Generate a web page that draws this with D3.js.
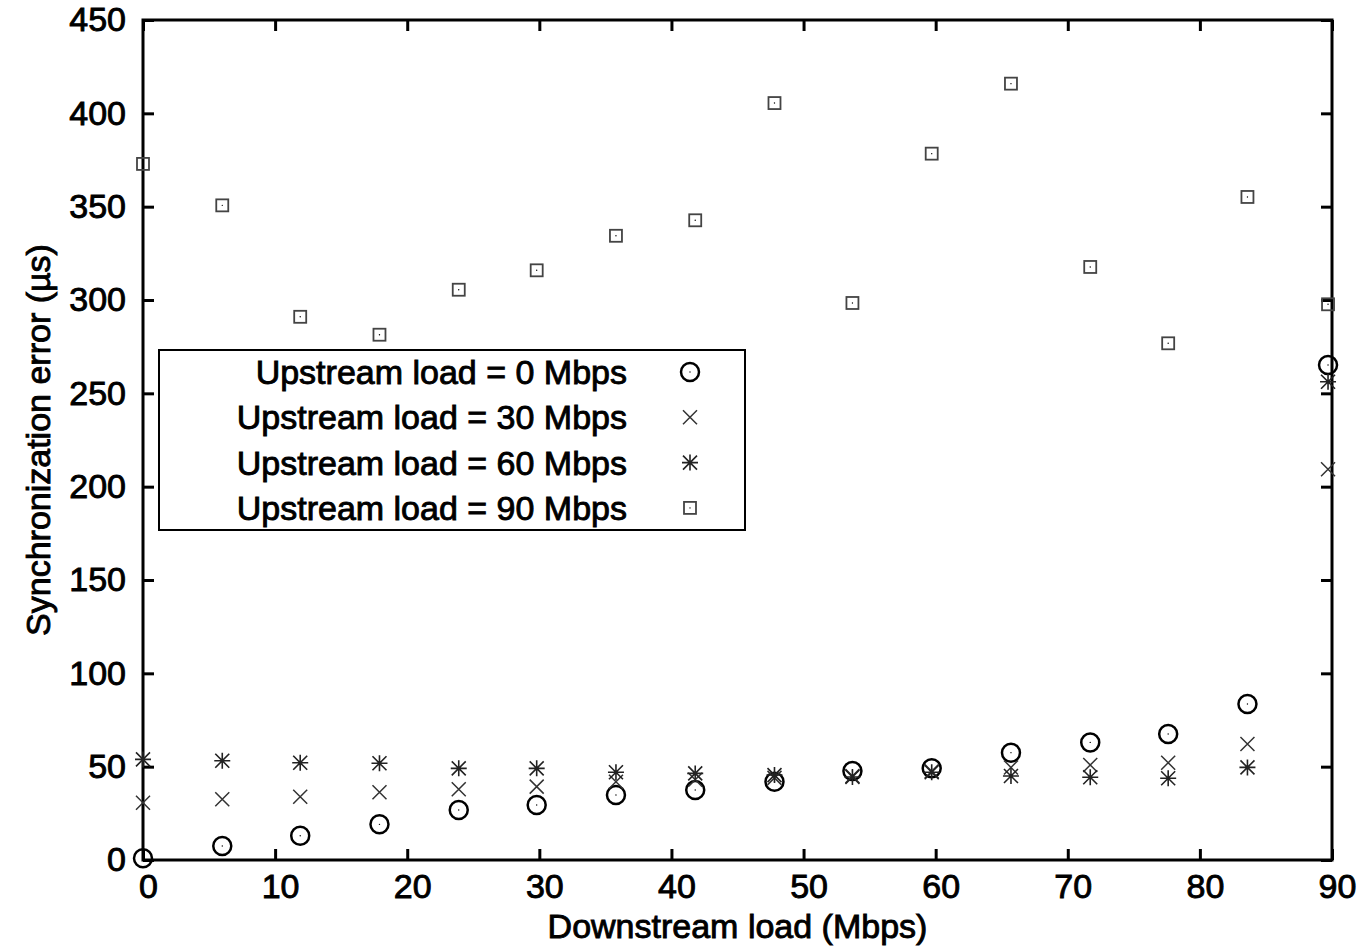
<!DOCTYPE html>
<html>
<head>
<meta charset="utf-8">
<script src="https://cdn.jsdelivr.net/npm/d3@7"></script>
<style>
  body { margin: 0; background: #fff; }
  text { font-family: "Liberation Sans", Arial, sans-serif; fill: #000; stroke: #000; stroke-width: 0.9px; }
</style>
</head>
<body>
<div class="chart"></div>
<script>
// downstream load (Mbps) for each measurement
var loads = [0, 6.0, 11.9, 17.9, 23.9, 29.8, 35.8, 41.8, 47.8, 53.7, 59.7, 65.7, 71.7, 77.6, 83.6, 89.7];

// synchronization error (us) per upstream load
var up0  = [0.9, 7.5, 13, 19.1, 26.8, 29.5, 34.8, 37.5, 41.9, 47.7, 49.1, 57.5, 63, 67.5, 83.6, 265.2];
var up30 = [30.7, 32.5, 33.9, 36.3, 37.9, 39.3, 41.9, 43, 44, 45, 47.5, 49.6, 50.9, 52.1, 62.1, 209.3];
var up60 = [53.9, 53.2, 52.1, 51.8, 49.1, 49.1, 47, 46.4, 45.5, 44.5, 47, 45, 44.3, 43.8, 49.6, 256.2];
var up90 = [372.9, 350.7, 291, 281.4, 305.5, 315.9, 334.4, 342.7, 405.5, 298.4, 378.4, 415.9, 317.7, 276.8, 355.2, 297.7];

var seriesNames = ['Upstream load = 0 Mbps', 'Upstream load = 30 Mbps', 'Upstream load = 60 Mbps', 'Upstream load = 90 Mbps'];
var seriesMarks = ['circle', 'cross', 'star', 'square'];
var xTicks = [0, 10, 20, 30, 40, 50, 60, 70, 80, 90];
var yTicks = [0, 50, 100, 150, 200, 250, 300, 350, 400, 450];

var width = 1361, height = 947;
var plotLeft = 143, plotRight = 1332, plotTop = 20, plotBottom = 860;

var svg = d3.select('.chart')
            .append('svg')
            .attr('width', width)
            .attr('height', height);

var x = d3.scaleLinear().domain([0, 90]).range([plotLeft, plotRight]);
var y = d3.scaleLinear().domain([0, 450]).range([plotBottom, plotTop]);

// ticks (inward on all four sides)
var xAxis = svg.append('g')
               .attr('transform', 'translate(0,' + plotBottom + ')')
               .call(d3.axisBottom(x).tickValues(xTicks).tickSizeInner(-11).tickSizeOuter(0).tickPadding(14));
xAxis.selectAll('text').attr('dx', 5);

var yAxis = svg.append('g')
               .attr('transform', 'translate(' + plotLeft + ',0)')
               .call(d3.axisLeft(y).tickValues(yTicks).tickSizeInner(-11).tickSizeOuter(0).tickPadding(17));

var topAxis = svg.append('g')
                 .attr('transform', 'translate(0,' + plotTop + ')')
                 .call(d3.axisTop(x).tickValues(xTicks).tickSizeInner(-11).tickSizeOuter(0).tickFormat(''));

var rightAxis = svg.append('g')
                   .attr('transform', 'translate(' + plotRight + ',0)')
                   .call(d3.axisRight(y).tickValues(yTicks).tickSizeInner(-11).tickSizeOuter(0).tickFormat(''));

svg.selectAll('.domain').remove();
svg.selectAll('.tick line').attr('stroke', '#000').attr('stroke-width', 3);
svg.selectAll('.tick text')
   .attr('font-size', 34)
   .attr('font-family', '"Liberation Sans", Arial, sans-serif')
   .attr('fill', '#000');

svg.append('rect')
   .attr('x', plotLeft)
   .attr('y', plotTop)
   .attr('width', plotRight - plotLeft)
   .attr('height', plotBottom - plotTop)
   .attr('fill', 'none')
   .attr('stroke', '#000')
   .attr('stroke-width', 3);

// axis titles
svg.append('text')
   .text('Downstream load (Mbps)')
   .attr('x', (plotLeft + plotRight) / 2)
   .attr('y', 938)
   .attr('text-anchor', 'middle')
   .attr('font-size', 34);

svg.append('text')
   .text('Synchronization error (µs)')
   .attr('transform', 'translate(50,' + (plotTop + plotBottom) / 2 + ') rotate(-90)')
   .attr('text-anchor', 'middle')
   .attr('font-size', 34);

// marker drawing
function drawMark(g, kind) {
  if (kind === 'circle') {
    g.append('circle').attr('r', 9).attr('fill', 'none').attr('stroke', '#000').attr('stroke-width', 2.5);
    g.append('circle').attr('r', 0.7).attr('fill', '#000');
  } else if (kind === 'cross') {
    g.append('path').attr('d', 'M-7,-7L7,7M-7,7L7,-7').attr('stroke', '#333').attr('stroke-width', 1.5);
  } else if (kind === 'star') {
    g.append('path').attr('d', 'M-7,-7L7,7M-7,7L7,-7M-8,0L8,0M0,-8L0,8').attr('stroke', '#222').attr('stroke-width', 1.6);
  } else {
    g.append('rect').attr('x', -6).attr('y', -6).attr('width', 12).attr('height', 12)
     .attr('fill', 'none').attr('stroke', '#444').attr('stroke-width', 1.8);
    g.append('circle').attr('r', 0.7).attr('fill', '#000');
  }
}

var allSeries = [up0, up30, up60, up90];
allSeries.forEach(function(values, s) {
  svg.append('g')
     .selectAll('g')
     .data(values)
     .enter()
     .append('g')
     .attr('transform', function(d, i) { return 'translate(' + x(loads[i]) + ',' + y(d) + ')'; })
     .each(function() { drawMark(d3.select(this), seriesMarks[s]); });
});

// legend
var legend = svg.append('g');
legend.append('rect')
      .attr('x', 159)
      .attr('y', 350)
      .attr('width', 586)
      .attr('height', 180)
      .attr('fill', '#fff')
      .attr('stroke', '#000')
      .attr('stroke-width', 2);

var rows = legend.selectAll('.row')
                 .data(seriesNames)
                 .enter()
                 .append('g')
                 .attr('class', 'row')
                 .attr('transform', function(d, i) { return 'translate(0,' + (372 + i * 45.3) + ')'; });

rows.append('text')
    .text(function(d) { return d; })
    .attr('x', 627)
    .attr('dy', '0.35em')
    .attr('text-anchor', 'end')
    .attr('font-size', 34);

rows.append('g')
    .attr('transform', 'translate(690,0)')
    .each(function(d, i) { drawMark(d3.select(this), seriesMarks[i]); });
</script>
</body>
</html>
